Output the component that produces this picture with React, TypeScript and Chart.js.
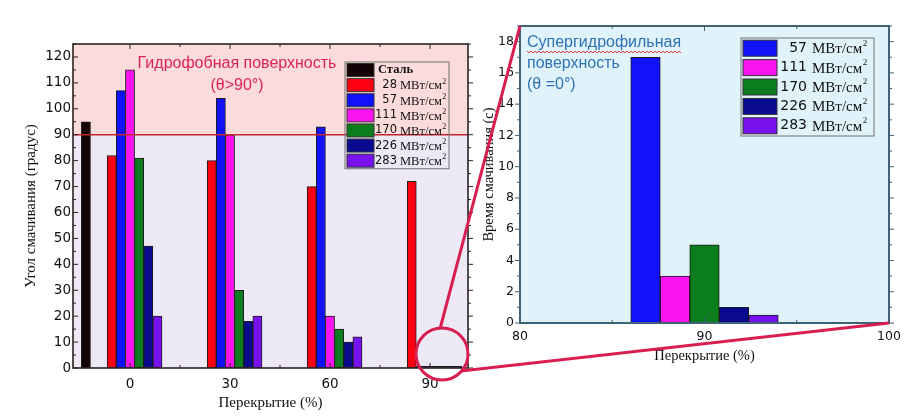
import React, { useEffect, useRef } from "react";
import { Chart, registerables } from "chart.js";

Chart.register(...registerables);

// ============================================================================
// DATA
// ============================================================================

const overlaps = [0, 30, 60, 90];
const steelOverlap = -5;
const steelAngle = 95;
const steelLabel = "Сталь";
const powers = [28, 57, 111, 170, 226, 283];
const powerUnit = "МВт/см²";

// contact angle (degrees) per power, one value per overlap
const angle28 = [82, 80, 70, 72];
const angle57 = [107, 104, 93, 0.6];
const angle111 = [115, 90, 20, 0.6];
const angle170 = [81, 30, 15, 0.6];
const angle226 = [47, 18, 10, 0.6];
const angle283 = [20, 20, 12, 0.6];
const angleSeries = [angle28, angle57, angle111, angle170, angle226, angle283];

const hydrophobicLimit = 90;

// zoomed panel: wetting time (s) at 90 % overlap
const zoomOverlap = 90;
const zoomPowers = [57, 111, 170, 226, 283];
const wettingTime = [17, 3, 5, 1, 0.5];

const leftXTicks = [0, 30, 60, 90];
const rightXTicks = [80, 90, 100];

// ============================================================================
// STYLE
// ============================================================================

const steelColor = "#140306";
const powerColors: Record<number, string> = {
  28: "#ff0012",
  57: "#1212fa",
  111: "#f914f0",
  170: "#0b7d1e",
  226: "#0a0a8e",
  283: "#7712ee",
};
const accent = "#d81e50";
const serif = "'Liberation Serif', 'Times New Roman', serif";
const sans = "'DejaVu Sans', sans-serif";

const range = (from: number, to: number, step: number) => {
  const out: number[] = [];
  for (let v = from; v <= to + 1e-9; v += step) out.push(Math.round(v * 1000) / 1000);
  return out;
};

// ============================================================================
// PLUGINS
// ============================================================================

const plotBg = {
  id: "plotBg",
  beforeDraw(chart: any, _a: any, opts: any) {
    const { ctx, chartArea: a, scales } = chart;
    ctx.save();
    if (opts.split != null) {
      const py = scales.y.getPixelForValue(opts.split);
      ctx.fillStyle = opts.upper;
      ctx.fillRect(a.left, a.top, a.right - a.left, py - a.top);
      ctx.fillStyle = opts.lower;
      ctx.fillRect(a.left, py, a.right - a.left, a.bottom - py);
    } else {
      ctx.fillStyle = opts.fill;
      ctx.fillRect(a.left, a.top, a.right - a.left, a.bottom - a.top);
    }
    ctx.restore();
  },
};

const refLine = {
  id: "refLine",
  afterDatasetsDraw(chart: any, _a: any, opts: any) {
    if (opts.value == null) return;
    const { ctx, chartArea: a, scales } = chart;
    const py = scales.y.getPixelForValue(opts.value);
    ctx.save();
    ctx.strokeStyle = opts.color;
    ctx.lineWidth = opts.width;
    ctx.beginPath();
    ctx.moveTo(a.left, py);
    ctx.lineTo(a.right, py);
    ctx.stroke();
    ctx.restore();
  },
};

const frameTicks = {
  id: "frameTicks",
  afterDraw(chart: any, _a: any, o: any) {
    const { ctx, chartArea: a, scales } = chart;
    ctx.save();
    ctx.strokeStyle = o.color;
    ctx.lineWidth = 1;
    const seg = (x1: number, y1: number, x2: number, y2: number) => {
      ctx.beginPath();
      ctx.moveTo(x1, y1);
      ctx.lineTo(x2, y2);
      ctx.stroke();
    };
    const xs: [number[], number][] = [[o.x.major, o.majorLen], [o.x.minor, o.minorLen]];
    xs.forEach(([list, len]) => {
      list.forEach((v) => {
        const px = scales.x.getPixelForValue(v);
        seg(px, a.bottom, px, a.bottom + (o.x.bottomOut ? len : -len));
        seg(px, a.top, px, a.top + (o.x.topOut ? -len : len));
      });
    });
    const ys: [number[], number][] = [[o.y.major, o.majorLen], [o.y.minor, o.minorLen]];
    ys.forEach(([list, len]) => {
      list.forEach((v) => {
        const py = scales.y.getPixelForValue(v);
        seg(a.left, py, a.left + (o.y.leftOut ? -len : len), py);
        seg(a.right, py, a.right + (o.y.rightOut ? len : -len), py);
      });
    });
    ctx.lineWidth = o.width;
    ctx.strokeRect(a.left, a.top, a.right - a.left, a.bottom - a.top);
    ctx.restore();
  },
};

const boxLegend = {
  id: "boxLegend",
  afterDraw(chart: any, _a: any, o: any) {
    const { ctx, chartArea: a } = chart;
    const sets = chart.data.datasets;
    const x0 = a.right - o.right - o.width;
    const y0 = a.top + o.top;
    ctx.save();
    ctx.strokeStyle = o.border;
    ctx.lineWidth = 1;
    ctx.strokeRect(x0, y0, o.width, sets.length * o.row + 1);
    sets.forEach((ds: any, i: number) => {
      const cy = y0 + 0.5 + i * o.row + o.row / 2;
      ctx.fillStyle = ds.backgroundColor;
      ctx.fillRect(x0 + 2, cy - o.swatchH / 2, o.swatchW, o.swatchH);
      ctx.strokeStyle = "#333";
      ctx.strokeRect(x0 + 2, cy - o.swatchH / 2, o.swatchW, o.swatchH);
      ctx.fillStyle = "#111";
      ctx.textBaseline = "middle";
      const m = String(ds.label).match(/^(\d+)\s(.*)$/);
      if (!m) {
        ctx.font = o.plainFont;
        ctx.textAlign = "left";
        ctx.fillText(ds.label, x0 + o.swatchW + 6, cy);
        return;
      }
      ctx.font = o.numFont;
      ctx.textAlign = "right";
      ctx.fillText(m[1], x0 + o.numRight, cy);
      let unit = m[2];
      const sup = unit.endsWith("²");
      if (sup) unit = unit.slice(0, -1);
      ctx.font = o.unitFont;
      ctx.textAlign = "left";
      const ux = x0 + o.numRight + o.gap;
      ctx.fillText(unit, ux, cy + 1);
      if (sup) {
        const w = ctx.measureText(unit).width;
        ctx.font = o.supFont;
        ctx.fillText("2", ux + w + 0.5, cy - o.supRise);
      }
    });
    ctx.restore();
  },
};

const notes = {
  id: "notes",
  afterDraw(chart: any, _a: any, o: any) {
    const { ctx, chartArea: a } = chart;
    ctx.save();
    ctx.font = o.font;
    ctx.fillStyle = o.color;
    ctx.textAlign = o.align;
    ctx.textBaseline = "middle";
    o.lines.forEach((line: string, i: number) => {
      const x = a.left + o.x;
      const y = a.top + o.y + i * o.lineHeight;
      ctx.fillText(line, x, y);
      if (o.squiggle === i) {
        const w = ctx.measureText(line).width;
        ctx.strokeStyle = "#e23a3a";
        ctx.lineWidth = 1;
        ctx.beginPath();
        for (let k = 0; k <= w; k += 2) {
          const yy = y + 9 + (Math.floor(k / 2) % 2 === 0 ? -0.8 : 0.8);
          if (k === 0) ctx.moveTo(x + k, yy);
          else ctx.lineTo(x + k, yy);
        }
        ctx.stroke();
      }
    });
    ctx.restore();
  },
};

// ============================================================================
// CHARTS
// ============================================================================

const barStyle = { borderColor: "#1c1c1c", borderWidth: 1, borderSkipped: false };
const noGrid = { display: false, drawTicks: false };
const tickFont = (size: number) => ({ family: sans, size });

const LeftChart: React.FC = () => {
  const ref = useRef<HTMLCanvasElement | null>(null);
  useEffect(() => {
    const ctx = ref.current?.getContext("2d");
    if (!ctx) return;
    const datasets: any[] = [
      {
        label: steelLabel,
        data: [{ x: steelOverlap, y: steelAngle }],
        backgroundColor: steelColor,
        ...barStyle,
      },
      ...powers.map((p, i) => ({
        label: `${p} ${powerUnit}`,
        data: overlaps.map((x, j) => ({ x, y: angleSeries[i][j] })),
        backgroundColor: powerColors[p],
        ...barStyle,
      })),
    ];
    const chart = new Chart(ctx, {
      type: "bar",
      data: { datasets },
      plugins: [plotBg, refLine, frameTicks, boxLegend, notes],
      options: {
        responsive: false,
        animation: false,
        layout: { padding: { top: 44, right: 12, left: 0, bottom: 0 } },
        datasets: { bar: { barThickness: 9.14 } },
        scales: {
          x: {
            type: "linear",
            min: -17.1,
            max: 101.4,
            offset: false,
            grid: noGrid,
            border: { display: false },
            afterBuildTicks: (s: any) => {
              s.ticks = leftXTicks.map((v) => ({ value: v }));
            },
            afterFit: (s: any) => {
              s.height = 50;
            },
            ticks: { padding: 8, font: tickFont(13.5), color: "#111", autoSkip: false, maxRotation: 0 },
            title: {
              display: true,
              text: "Перекрытие (%)",
              font: { family: serif, size: 15 },
              color: "#111",
              padding: { top: 0, bottom: 6 },
            },
          },
          y: {
            min: 0,
            max: 125,
            grid: noGrid,
            border: { display: false },
            afterBuildTicks: (s: any) => {
              s.ticks = range(0, 120, 10).map((v) => ({ value: v }));
            },
            afterFit: (s: any) => {
              s.width = 73;
            },
            ticks: { padding: 2, font: tickFont(13.5), color: "#111" },
            title: {
              display: true,
              text: "Угол смачивания (градус)",
              font: { family: serif, size: 15 },
              color: "#111",
              padding: { top: 22, bottom: 0 },
            },
          },
        },
        plugins: {
          legend: { display: false },
          tooltip: { enabled: false },
          plotBg: { split: hydrophobicLimit, upper: "#fbdbdb", lower: "#ede8f5" },
          refLine: { value: hydrophobicLimit, color: "#c3262e", width: 1.6 },
          frameTicks: {
            color: "#2a2222",
            width: 1.6,
            majorLen: 5,
            minorLen: 3,
            x: { major: leftXTicks, minor: [15, 45, 75], bottomOut: false, topOut: false },
            y: { major: range(0, 120, 10), minor: range(5, 125, 10), leftOut: false, rightOut: true },
          },
          boxLegend: {
            right: 19,
            top: 18,
            width: 104,
            row: 15.1,
            swatchW: 27,
            swatchH: 13,
            numRight: 52,
            gap: 3,
            numFont: `11.5px ${sans}`,
            unitFont: `12.5px ${serif}`,
            plainFont: `bold 12.5px ${serif}`,
            supFont: `8px ${serif}`,
            supRise: 3.5,
            border: "#707070",
          },
          notes: {
            lines: ["Гидрофобная поверхность", "(θ>90°)"],
            x: 164,
            y: 20,
            lineHeight: 22,
            align: "center",
            color: "#dc2456",
            font: "16px 'Liberation Sans', Arial, sans-serif",
          },
        } as any,
      },
    } as any);
    return () => chart.destroy();
  }, []);
  return <canvas ref={ref} width={480} height={418} style={{ display: "block" }} />;
};

const RightChart: React.FC = () => {
  const ref = useRef<HTMLCanvasElement | null>(null);
  useEffect(() => {
    const ctx = ref.current?.getContext("2d");
    if (!ctx) return;
    const datasets: any[] = zoomPowers.map((p, i) => ({
      label: `${p} ${powerUnit}`,
      data: [{ x: zoomOverlap, y: wettingTime[i] }],
      backgroundColor: powerColors[p],
      ...barStyle,
    }));
    const chart = new Chart(ctx, {
      type: "bar",
      data: { datasets },
      plugins: [plotBg, frameTicks, boxLegend, notes],
      options: {
        responsive: false,
        animation: false,
        layout: { padding: { top: 26, right: 19, left: 0, bottom: 0 } },
        datasets: { bar: { barThickness: 29.5 } },
        scales: {
          x: {
            type: "linear",
            min: 80,
            max: 100,
            offset: false,
            grid: noGrid,
            border: { display: false },
            afterBuildTicks: (s: any) => {
              s.ticks = rightXTicks.map((v) => ({ value: v }));
            },
            afterFit: (s: any) => {
              s.height = 49;
            },
            ticks: { padding: 6, font: tickFont(12.5), color: "#111", autoSkip: false, maxRotation: 0 },
            title: {
              display: true,
              text: "Перекрытие (%)",
              font: { family: serif, size: 14.5 },
              color: "#111",
              padding: { top: 0, bottom: 7 },
            },
          },
          y: {
            min: 0,
            max: 19,
            grid: noGrid,
            border: { display: false },
            afterBuildTicks: (s: any) => {
              s.ticks = range(0, 18, 2).map((v) => ({ value: v }));
            },
            afterFit: (s: any) => {
              s.width = 40;
            },
            ticks: { padding: 6, font: tickFont(12.5), color: "#111" },
            title: {
              display: true,
              text: "Время смачивания (с)",
              font: { family: serif, size: 14.5 },
              color: "#111",
              padding: { top: 0, bottom: 0 },
            },
          },
        },
        plugins: {
          legend: { display: false },
          tooltip: { enabled: false },
          plotBg: { fill: "#e1f3fa" },
          frameTicks: {
            color: "#3f6277",
            width: 2,
            majorLen: 5,
            minorLen: 3,
            x: { major: rightXTicks, minor: [85, 95], bottomOut: false, topOut: false },
            y: { major: range(0, 18, 2), minor: range(1, 19, 2), leftOut: true, rightOut: true },
          },
          boxLegend: {
            right: 15,
            top: 12,
            width: 133,
            row: 19.4,
            swatchW: 34,
            swatchH: 16,
            numRight: 66,
            gap: 5,
            numFont: `14px ${sans}`,
            unitFont: `15px ${serif}`,
            plainFont: `bold 14px ${serif}`,
            supFont: `9px ${serif}`,
            supRise: 5,
            border: "#707070",
          },
          notes: {
            lines: ["Супергидрофильная", "поверхность", "(θ =0°)"],
            x: 7,
            y: 17,
            lineHeight: 21,
            align: "left",
            color: "#2e72b4",
            font: "16px 'Liberation Sans', Arial, sans-serif",
            squiggle: 0,
          },
        } as any,
      },
    } as any);
    return () => chart.destroy();
  }, []);
  return <canvas ref={ref} width={428} height={372} style={{ display: "block" }} />;
};

// ============================================================================
// APP
// ============================================================================

export default function App() {
  return (
    <div
      style={{
        position: "absolute",
        left: 0,
        top: 0,
        width: 908,
        height: 418,
        background: "#fff",
        overflow: "hidden",
      }}
    >
      <div style={{ position: "absolute", left: 0, top: 0 }}>
        <LeftChart />
      </div>
      <div style={{ position: "absolute", left: 480, top: 0 }}>
        <RightChart />
      </div>
      <svg
        width={908}
        height={418}
        style={{ position: "absolute", left: 0, top: 0, pointerEvents: "none" }}
      >
        <circle cx={442} cy={354} r={26} fill="none" stroke={accent} strokeWidth={3} />
        <line x1={440} y1={329} x2={520} y2={26} stroke={accent} strokeWidth={3} />
        <line x1={461} y1={371} x2={889} y2={323} stroke={accent} strokeWidth={3} />
      </svg>
    </div>
  );
}
